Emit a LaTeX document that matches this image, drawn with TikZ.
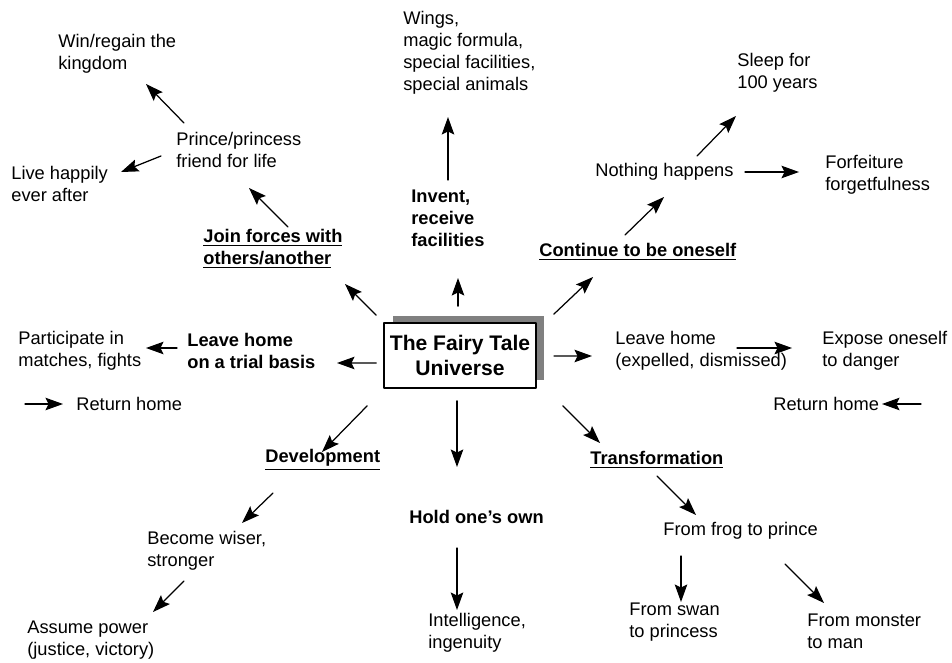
\documentclass[tikz,border=0pt]{standalone}
\usepackage{fontspec}
\setmainfont{Liberation Sans}
\usetikzlibrary{arrows.meta,shadows}

\begin{document}
\begin{tikzpicture}[x=0.02cm, y=-0.02cm, line join=round, line cap=round,
	font=\fontsize{10.4}{12.5}\selectfont,
	>={Stealth[length=3.5mm,width=2.5mm,inset=0.6mm]},
	txt/.style={anchor=west, align=left, inner sep=0pt},
	head/.style={txt, font=\fontsize{10.4}{12.5}\selectfont\bfseries},
	hub/.style={draw, line width=1pt, fill=white, align=center, inner sep=0pt,
		minimum width=3.04cm, minimum height=1.3cm,
		font=\fontsize{12}{14.2}\selectfont\bfseries,
		drop shadow={shadow xshift=0.17cm, shadow yshift=0.15cm, fill=black!50, opacity=1}},
	arr/.style={->, line width=0.7pt}]
	\useasboundingbox (0,0) rectangle (952,662);
	% centre
	\node[hub] (hub) at (460,355.5) {The Fairy Tale\\Universe};
	% upper left
	\node[txt] (win) at (58,54) {Win/regain the\\kingdom};
	\node[txt] (prince) at (176,150) {Prince/princess\\friend for life};
	\node[txt] (live) at (11,184) {Live happily\\ever after};
	\node[head] (join) at (203,249) {\underline{Join forces with}\\\underline{others/another}};
	% top
	\node[txt] (wings) at (403,53) {Wings,\\magic formula,\\special facilities,\\special animals};
	\node[head] (invent) at (411,218) {Invent,\\receive\\facilities};
	% upper right
	\node[txt] (sleep) at (737,73) {Sleep for\\100 years};
	\node[txt] (nothing) at (595,172) {Nothing happens};
	\node[txt] (forfeit) at (825,175) {Forfeiture\\forgetfulness};
	\node[head] (cont) at (539,252) {\underline{Continue to be oneself}};
	% left and right
	\node[txt] (partic) at (18,351) {Participate in\\matches, fights};
	\node[head] (trial) at (187,351) {Leave home\\on a trial basis};
	\node[txt] (retl) at (76,404) {Return home};
	\node[txt] (expel) at (615,351) {Leave home\\(expelled, dismissed)};
	\node[txt] (expose) at (822,351) {Expose oneself\\to danger};
	\node[txt] (retr) at (773,404) {Return home};
	% bottom
	\node[head] (dev) at (265,460) {\underline{Development}};
	\node[txt] (wiser) at (147,551) {Become wiser,\\stronger};
	\node[txt] (power) at (27,640) {Assume power\\(justice, victory)};
	\node[head] (hold) at (409,517) {Hold one’s own};
	\node[txt] (intel) at (428,632.5) {Intelligence,\\ingenuity};
	\node[head] (transf) at (590,460) {\underline{Transformation}};
	\node[txt] (frog) at (663,531) {From frog to prince};
	\node[txt] (swan) at (629,622.5) {From swan\\to princess};
	\node[txt] (monster) at (807,631) {From monster\\to man};
	% arrows
	\draw[arr] ([shift={(-7,-7)}]hub.north west) -- ([shift={(142,35)}]join.west);
	\draw[arr] ([shift={(85,-22)}]join.west) -- ([shift={(73,38)}]prince.west);
	\draw[arr] ([shift={(8,-27)}]prince.west) -- ([shift={(88,30)}]win.west);
	\draw[arr] ([shift={(-15,6)}]prince.west) -- ([shift={(110,-12)}]live.west);
	\draw[arr] ([shift={(-2,-16)}]hub.north) -- ([shift={(47,60)}]invent.west);
	\draw[arr] ([shift={(37,-38)}]invent.west) -- ([shift={(45,64)}]wings.west);
	\draw[arr] ([shift={(17,-8)}]hub.north east) -- ([shift={(54,25)}]cont.west);
	\draw[arr] ([shift={(86,-17)}]cont.west) -- ([shift={(69,25)}]nothing.west);
	\draw[arr] ([shift={(102,-16)}]nothing.west) -- ([shift={(-1,43)}]sleep.west);
	\draw[arr] ([shift={(150,0)}]nothing.west) -- ([shift={(-26,-3)}]forfeit.west);
	\draw[arr] ([shift={(17,0.5)}]hub.east) -- ([shift={(-23,5)}]expel.west);
	\draw[arr] ([shift={(122,-3)}]expel.west) -- ([shift={(-30,-3)}]expose.west);
	\draw[arr] ([shift={(148,0)}]retr.west) -- ([shift={(109,0)}]retr.west);
	\draw[arr] ([shift={(-7,7.5)}]hub.west) -- ([shift={(150,12)}]trial.west);
	\draw[arr] ([shift={(-10,-3)}]trial.west) -- ([shift={(128,-3)}]partic.west);
	\draw[arr] ([shift={(-51,0)}]retl.west) -- ([shift={(-13,0)}]retl.west);
	\draw[arr] ([shift={(-16,17)}]hub.south west) -- ([shift={(57,-8)}]dev.west);
	\draw[arr] ([shift={(8,33)}]dev.west) -- ([shift={(95,-28)}]wiser.west);
	\draw[arr] ([shift={(37,30)}]wiser.west) -- ([shift={(126,-28)}]power.west);
	\draw[arr] ([shift={(-3,12)}]hub.south) -- ([shift={(48,-50)}]hold.west);
	\draw[arr] ([shift={(48,31)}]hold.west) -- ([shift={(29,-22.5)}]intel.west);
	\draw[arr] ([shift={(26,17)}]hub.south east) -- ([shift={(10,-17)}]transf.west);
	\draw[arr] ([shift={(67,16)}]transf.west) -- ([shift={(33,-16)}]frog.west);
	\draw[arr] ([shift={(18,25)}]frog.west) -- ([shift={(52,-20.5)}]swan.west);
	\draw[arr] ([shift={(122,33)}]frog.west) -- ([shift={(17,-28)}]monster.west);
\end{tikzpicture}
\end{document}
